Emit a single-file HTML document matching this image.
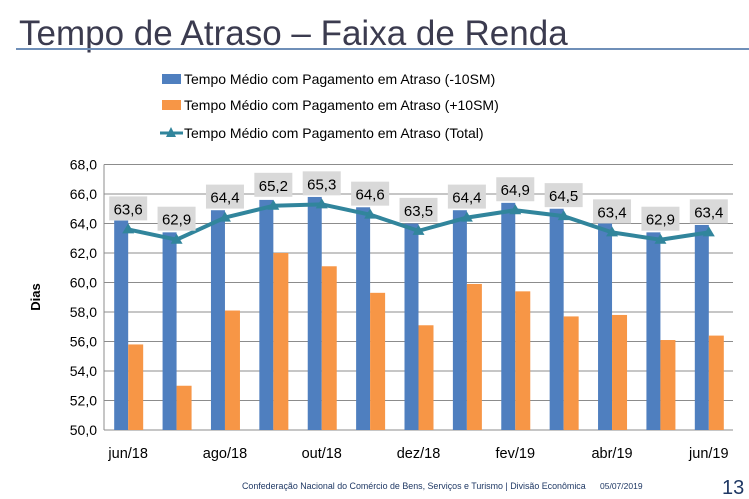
<!DOCTYPE html>
<html><head><meta charset="utf-8"><style>
body{margin:0;background:#fff;width:749px;height:499px;overflow:hidden}
svg{display:block;font-family:"Liberation Sans",sans-serif}
</style></head><body>
<svg id="c" width="749" height="499">
<text x="19" y="45" font-size="35" fill="#3b3b4f">Tempo de Atraso – Faixa de Renda</text>
<rect x="16" y="48" width="733" height="2" fill="#6f8fb8"/>
<g>
<rect x="162" y="74" width="19" height="10" fill="#4f7fbf"/>
<text x="184" y="84" font-size="14" fill="#000">Tempo Médio com Pagamento em Atraso (-10SM)</text>
<rect x="162" y="100" width="19" height="10" fill="#f79646"/>
<text x="184" y="110" font-size="14" fill="#000">Tempo Médio com Pagamento em Atraso (+10SM)</text>
<line x1="160" y1="133" x2="183" y2="133" stroke="#31859c" stroke-width="3"/>
<polygon points="171,127 176,137 166,137" fill="#31859c"/>
<text x="184" y="138" font-size="14" fill="#000">Tempo Médio com Pagamento em Atraso (Total)</text>
</g>
<text transform="translate(40,297) rotate(-90)" text-anchor="middle" font-size="13" font-weight="bold">Dias</text>
<g id="grid"></g><g id="bars"></g><g id="line"></g><g id="labels"></g>
<text x="242" y="489" font-size="8.9" fill="#1f3864">Confederação Nacional do Comércio de Bens, Serviços e Turismo | Divisão Econômica</text>
<text x="600" y="489" font-size="8.5" fill="#1f3864">05/07/2019</text>
<text x="722" y="494" font-size="20" fill="#1f3864">13</text>
</svg>
<script>
const categories=["jun/18","jul/18","ago/18","set/18","out/18","nov/18","dez/18","jan/19","fev/19","mar/19","abr/19","mai/19","jun/19"];
const lowValues=[64.2,63.4,64.9,65.6,65.8,65.1,64.0,64.9,65.4,65.0,64.0,63.4,63.9];
const highValues=[55.8,53.0,58.1,62.0,61.1,59.3,57.1,59.9,59.4,57.7,57.8,56.1,56.4];
const totalValues=[63.6,62.9,64.4,65.2,65.3,64.6,63.5,64.4,64.9,64.5,63.4,62.9,63.4];
const yTicks=[50,52,54,56,58,60,62,64,66,68];
const NS="http://www.w3.org/2000/svg";
const L=104,R=733,T=164.5,B=430,ymin=50,ymax=68;
const step=(R-L)/categories.length;
const y=v=>B-(v-ymin)/(ymax-ymin)*(B-T);
const x=i=>L+step*(i+0.5);
function mk(tag,attrs,parent){const e=document.createElementNS(NS,tag);for(const k in attrs)e.setAttribute(k,attrs[k]);parent.appendChild(e);return e;}
const fmt=v=>v.toFixed(1).replace('.',',');
const grid=document.getElementById('grid');
yTicks.forEach(t=>{
 const l=mk('line',{x1:L,x2:R,y1:y(t),y2:y(t),stroke:'#8c8c8c','stroke-width':1},grid);
 
 
 const tx=mk('text',{x:97,y:y(t)+5,'text-anchor':'end','font-size':14},grid);
 tx.textContent=fmt(t);
 
 
});
const ax=mk('line',{x1:L,x2:L,y1:T,y2:B,stroke:'#8c8c8c'},grid);


const bars=document.getElementById('bars');
const bw=14;
categories.forEach((c,i)=>{
 const b1=mk('rect',{x:x(i)-bw,y:y(lowValues[i]),width:bw,height:B-y(lowValues[i]),fill:'#4f7fbf'},bars);
 
 
 const b2=mk('rect',{x:x(i),y:y(highValues[i]),width:bw+1,height:B-y(highValues[i]),fill:'#f79646'},bars);
 
 
 if(i%2===0){const t=mk('text',{x:x(i),y:458,'text-anchor':'middle','font-size':14.5},bars);t.textContent=c;
 
 }
});
const lg=document.getElementById('line');
const pl=mk('polyline',{points:totalValues.map((v,i)=>x(i)+','+y(v)).join(' '),fill:'none',stroke:'#31859c','stroke-width':4,'stroke-linejoin':'round'},lg);


const lb=document.getElementById('labels');
totalValues.forEach((v,i)=>{
 const px=x(i),py=y(v);
 const m=mk('polygon',{points:`${px},${py-6} ${px+6},${py+4} ${px-6},${py+4}`,fill:'#31859c'},lg);
 
 
 const r=mk('rect',{x:px-19,y:py-33,width:38,height:24,fill:'#d9d9d9'},lb);
 
 
 const t=mk('text',{x:px,y:py-15,'text-anchor':'middle','font-size':15},lb);
 t.textContent=fmt(v);
 
 
});
</script>
</body></html>
